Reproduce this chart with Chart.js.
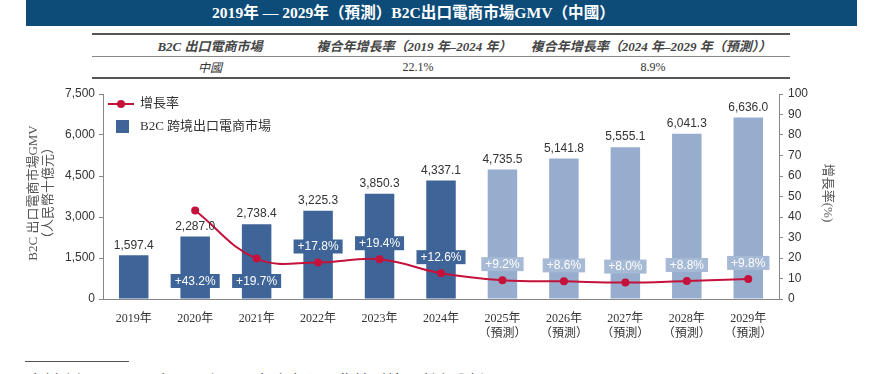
<!DOCTYPE html>
<html>
<head>
<meta charset="utf-8">
<script src="https://cdn.jsdelivr.net/npm/chart.js@4.4.1/dist/chart.umd.min.js"></script>
<style>
    body { margin: 0; width: 872px; height: 374px; overflow: hidden; background: #fff; position: relative;
           font-family: "Liberation Serif", "Noto Sans CJK TC", serif; color: #333; }
    #titlebar { position: absolute; left: 26px; top: 0; width: 831px; height: 26px; background: #0d4c79; }
    #titletext { position: absolute; left: 212px; top: 0; line-height: 25px; color: #fff; font-weight: bold;
                 font-size: 15.6px; white-space: nowrap; }
    .rule { position: absolute; left: 92px; width: 698px; }
    .cell { position: absolute; transform: translate(-50%, -50%); white-space: nowrap; font-size: 12px; }
    .head { font-weight: bold; font-style: italic; font-size: 13px; color: #444; }
    #wrap { position: absolute; left: 0; top: 80px; width: 872px; height: 260px; }
    #footline { position: absolute; left: 25px; top: 361px; width: 104px; height: 1px; background: #555; }
    .foot { position: absolute; top: 369px; font-size: 16.5px; white-space: nowrap; color: #222; }
</style>
</head>
<body>
<div id="titlebar"></div>
<div id="titletext">2019年 — 2029年（預測）B2C出口電商市場GMV（中國）</div>

<div class="rule" style="top:33px;height:2px;background:#555;"></div>
<div class="cell head" style="left:210px;top:45px;">B2C 出口電商市場</div>
<div class="cell head" style="left:414px;top:45px;">複合年增長率（2019 年–2024 年）</div>
<div class="cell head" style="left:651px;top:45px;">複合年增長率（2024 年–2029 年（預測））</div>
<div class="rule" style="top:56px;height:1px;background:#888;"></div>
<div class="cell" style="left:210px;top:67px;font-style:italic;">中國</div>
<div class="cell" style="left:418px;top:67px;">22.1%</div>
<div class="cell" style="left:653px;top:67px;">8.9%</div>
<div class="rule" style="top:77px;height:2px;background:#555;"></div>

<div id="wrap"><canvas id="chart"></canvas></div>

<div id="footline"></div>
<div class="foot" style="left:27px;">資料來源：</div>
<div class="foot" style="left:155px;">中國國際電子商務中心及弗若斯特沙利文分析</div>

<script>
// --- Data ---
const categories = ['2019年', '2020年', '2021年', '2022年', '2023年', '2024年', '2025年', '2026年', '2027年', '2028年', '2029年'];
const forecastNote = '（預測）';
const firstForecast = 6;
const gmv = [1597.4, 2287.0, 2738.4, 3225.3, 3850.3, 4337.1, 4735.5, 5141.8, 5555.1, 6041.3, 6636.0];
const growth = [null, 43.2, 19.7, 17.8, 19.4, 12.6, 9.2, 8.6, 8.0, 8.8, 9.8];

// --- Styling ---
const DARK = '#3e6498';
const LIGHT = '#97adcd';
const LIGHT_BOX = '#a6b9d5';
const RED = '#c4123a';
const labelsAtBase = [1, 2];   // growth boxes sitting at the foot of the bar
const barColors = categories.map((_, i) => i >= firstForecast ? LIGHT : DARK);
const boxColors = categories.map((_, i) => i >= firstForecast ? LIGHT_BOX : DARK);
const xLabels = categories.map((c, i) => i >= firstForecast ? [c, forecastNote] : c);
const numFont = '"Liberation Sans", Arial, sans-serif';
const cjkFont = '"Liberation Serif", "Noto Sans CJK TC", serif';

const fmt = v => v.toLocaleString('en-US', { minimumFractionDigits: 1, maximumFractionDigits: 1 });

const overlay = {
    id: 'overlay',
    afterDatasetsDraw(chart) {
        const ctx = chart.ctx;
        const lineMeta = chart.getDatasetMeta(0);
        const barMeta = chart.getDatasetMeta(1);
        const base = chart.scales.y.bottom;

        ctx.save();
        ctx.textAlign = 'center';
        ctx.textBaseline = 'middle';
        ctx.font = '12px ' + numFont;

        // values above bars
        barMeta.data.forEach((bar, i) => {
            ctx.fillStyle = '#333';
            ctx.fillText(fmt(gmv[i]), bar.x, bar.y - 10);
        });

        // growth boxes
        lineMeta.data.forEach((pt, i) => {
            if (growth[i] == null) return;
            const txt = '+' + growth[i].toFixed(1) + '%';
            const w = ctx.measureText(txt).width + 8;
            const h = 14;
            const y = labelsAtBase.includes(i) ? base - 18 : pt.y - 16;
            ctx.fillStyle = boxColors[i];
            ctx.fillRect(pt.x - w / 2, y - h / 2, w, h);
            ctx.fillStyle = '#fff';
            ctx.fillText(txt, pt.x, y + 0.5);
        });

        // legend
        ctx.textAlign = 'left';
        ctx.strokeStyle = RED;
        ctx.lineWidth = 2;
        ctx.beginPath();
        ctx.moveTo(108, 24);
        ctx.lineTo(134, 24);
        ctx.stroke();
        ctx.fillStyle = RED;
        ctx.beginPath();
        ctx.arc(121, 24, 4, 0, Math.PI * 2);
        ctx.fill();
        ctx.fillStyle = DARK;
        ctx.fillRect(116, 40, 13, 13);
        ctx.fillStyle = '#333';
        ctx.font = '13px ' + cjkFont;
        ctx.fillText('增長率', 140, 24);
        ctx.fillText('B2C 跨境出口電商市場', 140, 47);

        // axis titles
        ctx.textAlign = 'center';
        ctx.fillStyle = '#555';
        ctx.save();
        ctx.translate(34, 113);
        ctx.rotate(-Math.PI / 2);
        ctx.fillText('B2C 出口電商市場GMV', 0, 0);
        ctx.restore();
        ctx.save();
        ctx.translate(49, 113);
        ctx.rotate(-Math.PI / 2);
        ctx.fillText('（人民幣十億元）', 0, 0);
        ctx.restore();
        ctx.save();
        ctx.translate(827, 113);
        ctx.rotate(Math.PI / 2);
        ctx.fillText('增長率(%)', 0, 0);
        ctx.restore();

        ctx.restore();
    }
};

const axisGrid = { drawOnChartArea: false, drawTicks: true, tickLength: 4, color: '#888' };

new Chart(document.getElementById('chart'), {
    data: {
        labels: xLabels,
        datasets: [{
            type: 'line',
            label: '增長率',
            data: growth,
            yAxisID: 'y1',
            borderColor: RED,
            backgroundColor: RED,
            borderWidth: 2,
            pointRadius: 4,
            pointBackgroundColor: RED,
            pointBorderWidth: 0,
            tension: 0.4,
            order: 0
        }, {
            type: 'bar',
            label: 'B2C 跨境出口電商市場',
            data: gmv,
            yAxisID: 'y',
            backgroundColor: barColors,
            barPercentage: 0.48,
            categoryPercentage: 1,
            order: 1
        }]
    },
    options: {
        responsive: true,
        maintainAspectRatio: false,
        animation: false,
        layout: { padding: { top: 14, left: 0, right: 0, bottom: 0 } },
        plugins: { legend: { display: false }, tooltip: { enabled: false } },
        scales: {
            x: {
                grid: { display: false },
                border: { color: '#888' },
                ticks: { color: '#333', font: { family: cjkFont, size: 12 }, padding: 5, maxRotation: 0, autoSkip: false },
                afterFit: s => { s.height = 41; }
            },
            y: {
                position: 'left',
                min: 0, max: 7500,
                grid: axisGrid,
                border: { color: '#888' },
                ticks: { stepSize: 1500, color: '#333', padding: 4, font: { family: numFont, size: 12 } },
                afterFit: s => { s.width = 103; }
            },
            y1: {
                position: 'right',
                min: 0, max: 100,
                grid: axisGrid,
                border: { color: '#888' },
                ticks: { stepSize: 10, color: '#333', padding: 5, font: { family: numFont, size: 12 } },
                afterFit: s => { s.width = 93; }
            }
        }
    },
    plugins: [overlay]
});
</script>
</body>
</html>
